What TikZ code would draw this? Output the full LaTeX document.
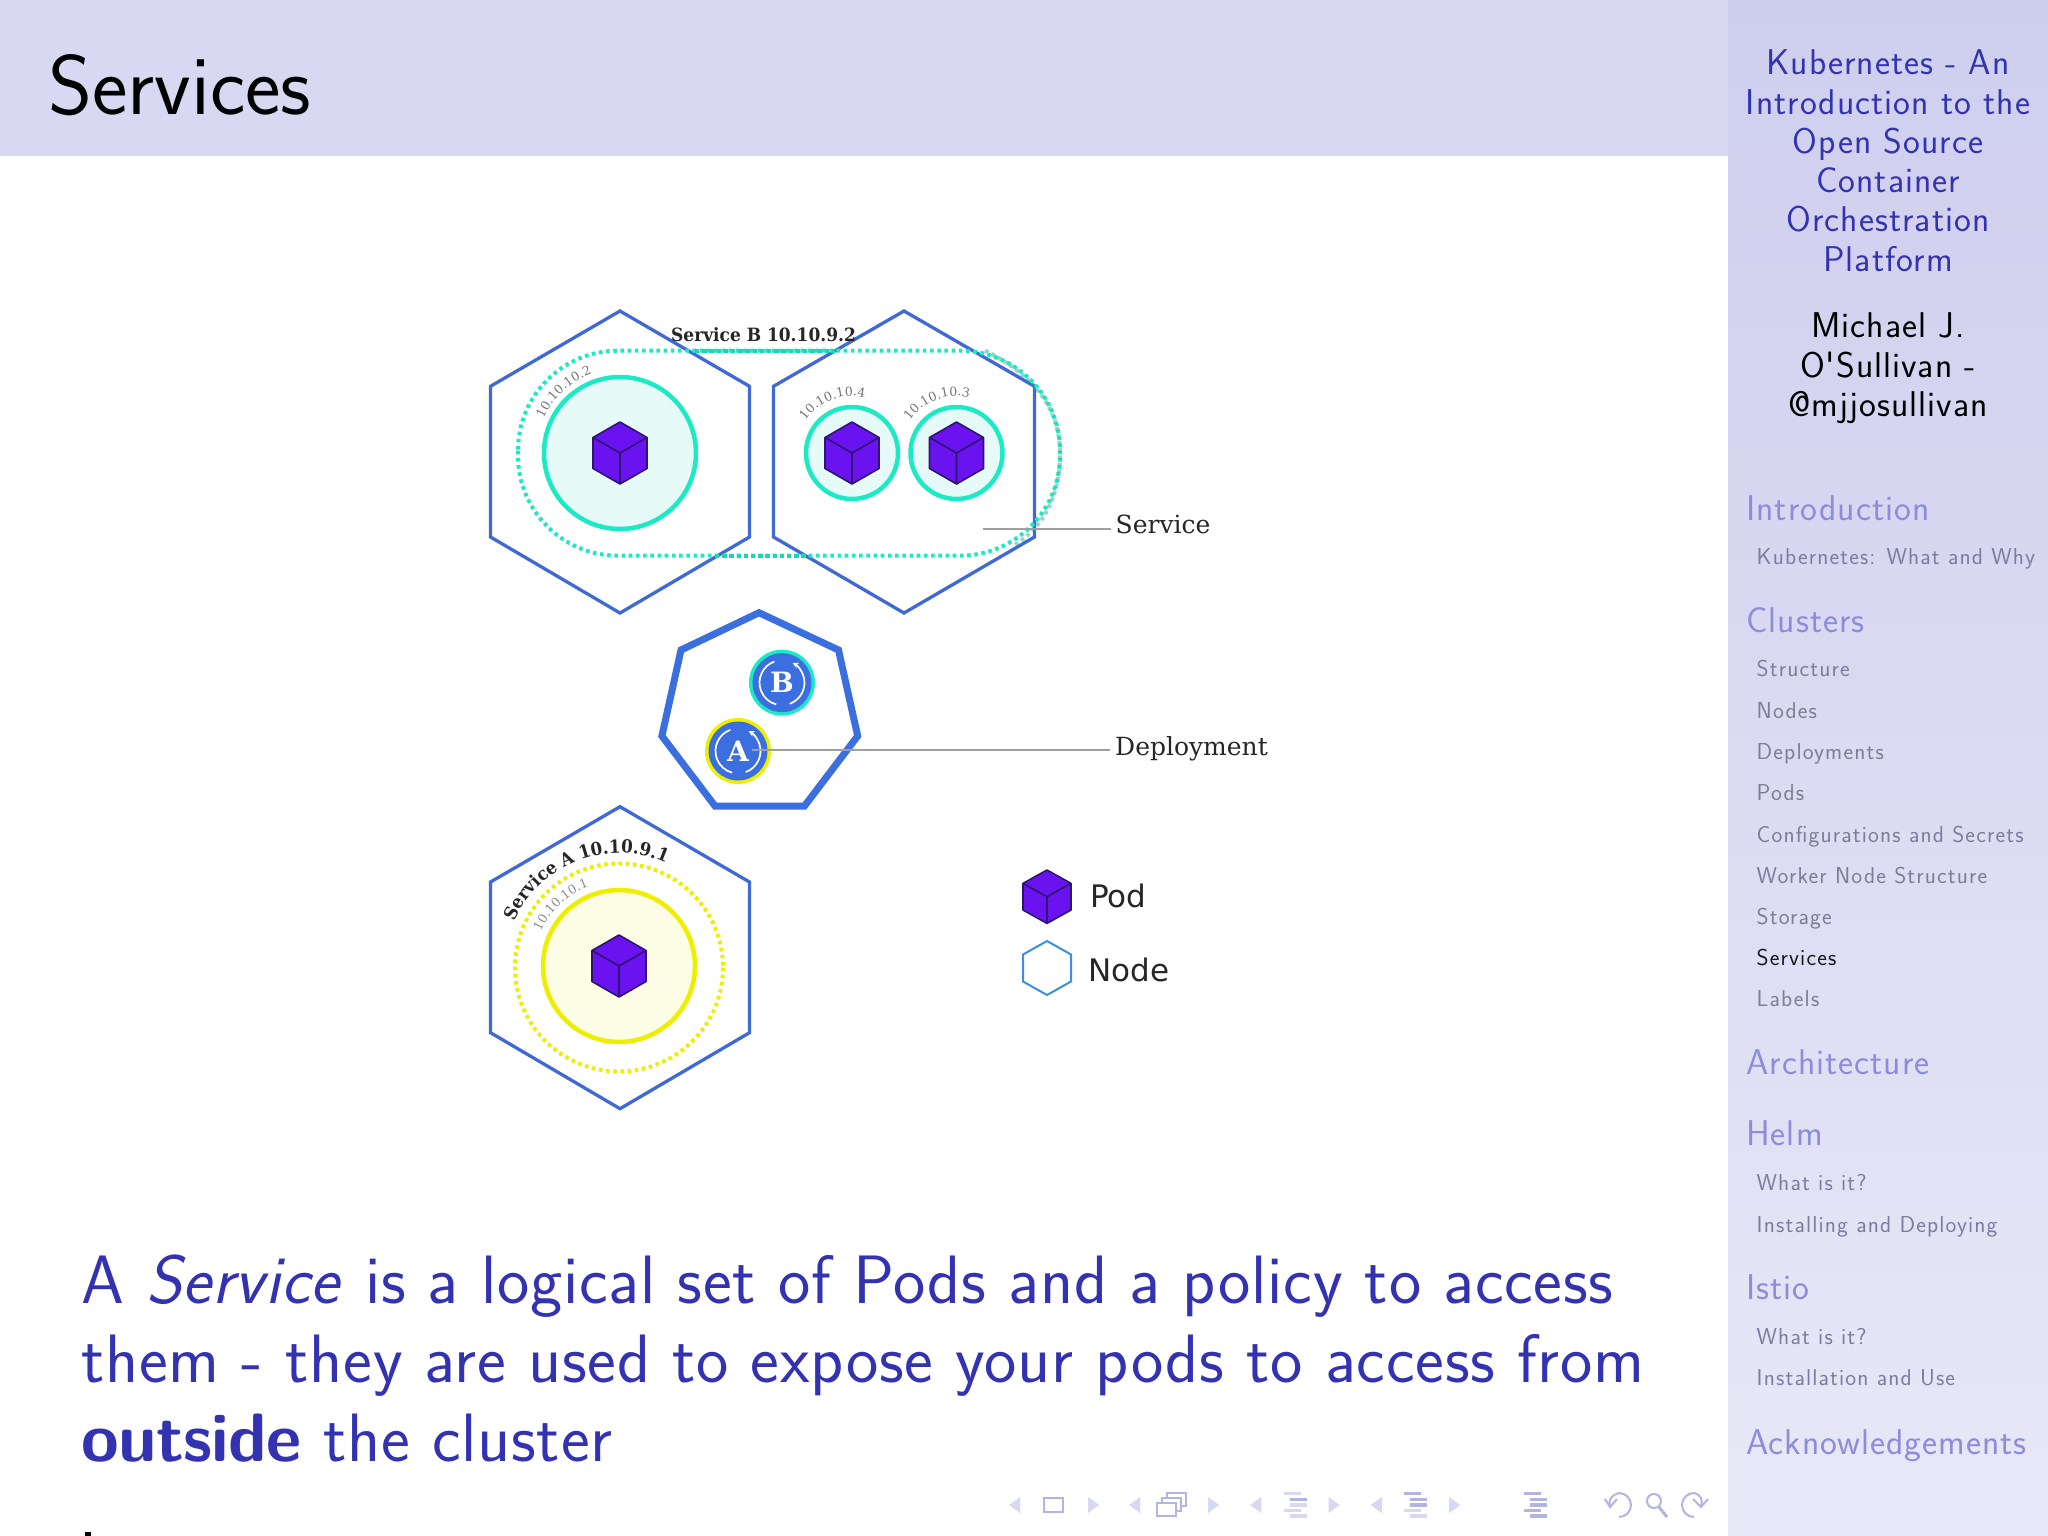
\documentclass[tikz,border=0pt]{standalone}
\usepackage{fontspec}
\usetikzlibrary{decorations.text,arrows.meta,calc}
\newfontfamily\lmA[LetterSpace=2.9]{Latin Modern Sans}
\newfontfamily\lmB[LetterSpace=5.0]{Latin Modern Sans}
\newfontfamily\lmC[LetterSpace=1.15,BoldFeatures={LetterSpace=-.8}]{Latin Modern Sans}
\newfontfamily\lmT{Latin Modern Sans}
\newfontfamily\slabN{DejaVu Serif}
\newfontfamily\slab[FakeStretch=.93]{DejaVu Serif}
\newfontfamily\djv{DejaVu Sans}
\definecolor{struct}{HTML}{3333B2}
\definecolor{hexblue}{HTML}{4169D6}
\definecolor{depblue}{HTML}{3B6FE0}
\definecolor{teal}{HTML}{1CEAC4}
\definecolor{tealfill}{HTML}{E6FBF7}
\definecolor{yel}{HTML}{EEEE00}
\definecolor{yelfill}{HTML}{FDFDE6}
\definecolor{cubef}{HTML}{6A12F0}
\definecolor{cubel}{HTML}{2B1570}
\definecolor{navd}{HTML}{B4B4E1}
\definecolor{navl}{HTML}{D8D8F0}
\definecolor{sect}{HTML}{8C8CDA}
\definecolor{subs}{HTML}{7C7C9C}
\tikzset{
  x=1pt,y=-1pt,
  txt/.style={anchor=base west,inner sep=0pt},
  ctr/.style={anchor=base,inner sep=0pt},
  bodyline/.style={txt,text=struct,font=\lmC\fontsize{68.5}{79}\selectfont},
  sbtitle/.style={ctr,text=struct,font=\lmA\fontsize{35.8}{39}\selectfont},
  sbauth/.style={ctr,text=black,font=\lmA\fontsize{35.8}{39}\selectfont},
  sbsec/.style={txt,text=sect,font=\lmA\fontsize{35.8}{39}\selectfont},
  sbsub/.style={txt,text=subs,font=\lmB\fontsize{23}{26}\selectfont},
  nodehex/.style={draw=hexblue,line width=3.3pt,line join=miter},
  podbig/.style={draw=teal,fill=tealfill,line width=4.5pt},
  dotted teal/.style={draw=teal,line width=4pt,dash pattern=on 3.6pt off 3.6pt},
  dotted yel/.style={draw=yel,line width=4pt,dash pattern=on 3.6pt off 3.6pt},
  leader/.style={draw=gray!75,line width=1.6pt},
  lab/.style={anchor=base west,inner ysep=0pt,inner xsep=5pt,text=black!85,font=\slabN\fontsize{25}{28}\selectfont},
  legend/.style={txt,text=black!85,font=\djv\fontsize{31}{34}\selectfont},
  navtri/.style={fill=navl,draw=none},
  deplogo/.style={circle,fill=depblue,minimum size=59pt,inner sep=0pt,text=white,font=\slabN\bfseries\fontsize{28}{30}\selectfont},
}
\newcommand{\kcube}[4]{%
 \begin{scope}[shift={(#1,#2)}]
  \draw[fill=cubef,draw=cubel,line width=1.6pt,line join=round]
    (0,-#4) -- (#3,-#4*.5) -- (#3,#4*.5) -- (0,#4) -- (-#3,#4*.5) -- (-#3,-#4*.5) -- cycle;
  \draw[draw=cubel,line width=1.6pt,line join=round]
    (-#3,-#4*.5) -- (0,0) -- (#3,-#4*.5) (0,0) -- (0,#4);
 \end{scope}}
\newcommand{\khex}[3]{%
  (#1,#2) -- (#1+#3,#2+75.3) -- (#1+#3,#2+226) -- (#1,#2+302) -- (#1-#3,#2+226) -- (#1-#3,#2+75.3) -- cycle}
\newcommand{\navleft}[2]{\fill[navtri] (#1,1505) -- (#1+11.3,#2-8) -- (#1+11.3,#2+8) -- cycle;}
\newcommand{\navright}[2]{\fill[navtri] (#1+11.3,1505) -- (#1,#2-8) -- (#1,#2+8) -- cycle;}
\newcommand{\navbars}[6]{%
 \fill[#2] (#1,1492) rectangle +(17,3.4);
 \fill[#3] (#1+5.5,1497.6) rectangle +(17,3.4);
 \fill[#4] (#1+5.5,1503.2) rectangle +(17,3.4);
 \fill[#5] (#1,1508.8) rectangle +(17,3.4);
 \fill[#6] (#1+5.5,1514.4) rectangle +(17,3.4);}
\newcommand{\deparrows}[2]{%
 \draw[white,line width=1.7pt,-{Stealth[length=6pt,width=6pt]}] (#1,#2) ++(70:22.5) arc (70:-62:22.5);
 \draw[white,line width=1.7pt] (#1,#2) ++(250:22.5) arc (250:105:22.5);}
\begin{document}
\begin{tikzpicture}
\useasboundingbox (0,0) rectangle (2048,1536);
\fill[white] (0,0) rectangle (2048,1536);
% header and sidebar
\fill[color={rgb,255:red,216;green,216;blue,242}] (0,0) rectangle (1728,156);
\shade[top color={rgb,255:red,206;green,206;blue,238},bottom color={rgb,255:red,232;green,232;blue,248}] (1728,0) rectangle (2048,1536);
\node[txt,font=\lmT\fontsize{84.5}{90}\selectfont] (title) at (48,115) {Services};

% nodes of cluster
\path[nodehex] \khex{620}{311}{129.5};
\path[nodehex] \khex{904}{311}{130.5};
% service B outline
\draw[dotted teal,rounded corners=100pt] (518,350.7) rectangle (1060,555.7);
\draw[draw=teal!70!black,line width=4pt,dash pattern=on 3.6pt off 3.6pt,opacity=.45] (985,350.7) .. controls (1035,375) and (1060,410) .. (1060,453) .. controls (1060,495) and (1045,525) .. (1015,545);
\draw[draw=teal!92!black,line width=4pt,dash pattern=on 4.4pt off 2.8pt] (695,350.7) -- (835,350.7) (715,555.7) -- (810,555.7);
% pods
\draw[podbig] (620,453) circle[radius=76];
\draw[podbig] (852,453) circle[radius=46];
\draw[podbig] (956.5,453) circle[radius=46];
\kcube{620}{453}{27}{31}
\kcube{852}{453}{27}{31}
\kcube{956.5}{453}{27}{31}
\path[decorate,decoration={text along path,text align=center,text color=black!55,text={|\slabN\fontsize{12.5}{15}\selectfont|10.10.10.2}}] (620,453) ++(203:84) arc (203:252:84);
\path[decorate,decoration={text along path,text align=center,text color=black!55,text={|\slabN\fontsize{12.5}{15}\selectfont|10.10.10.4}}] (852,453) ++(212:57) arc (212:286:57);
\path[decorate,decoration={text along path,text align=center,text color=black!55,text={|\slabN\fontsize{12.5}{15}\selectfont|10.10.10.3}}] (956.5,453) ++(212:57) arc (212:286:57);
\node[txt,text=black!85,font=\slab\bfseries\fontsize{18.3}{20}\selectfont] (svcb) at (671,341.5) {Service B 10.10.9.2};
\coordinate (svcstart) at (983,528.7);
\node[lab] (svclabel) at (1110.5,533) {Service};
\draw[leader] (svcstart) -- (svcstart -| svclabel.west);

% deployment
\draw[draw=depblue,line width=7pt,line join=miter,fill=none] (759,612.7) -- (838.5,650) -- (857.7,736) -- (804.5,806) -- (715,806) -- (661.9,736) -- (681,650) -- cycle;
\node[circle,fill=teal,minimum size=66pt,inner sep=0pt] (ringB) at (782,682.7) {};
\node[circle,fill=yel,minimum size=66pt,inner sep=0pt] (ringA) at (738,751) {};
\node[deplogo] (depB) at (ringB) {B};
\node[deplogo] (depA) at (ringA) {A};
\deparrows{782}{682.7}
\deparrows{738}{751}
\coordinate (depstart) at (752,750);
\node[lab] (deplabel) at (1110,755) {Deployment};
\draw[leader,line width=2pt] (depstart) -- (depstart -| deplabel.west);

% node with service A
\path[nodehex] \khex{620}{806.7}{129.5};
\draw[dotted yel] (619,967.5) circle[radius=104];
\draw[draw=yel,fill=yelfill,line width=4.5pt] (619,966) circle[radius=76];
\kcube{619}{966}{27}{31}
\path[decorate,decoration={text along path,text align=center,text color=black!85,text={|\slab\bfseries\fontsize{18}{20}\selectfont|Service A 10.10.9.1}}] (619,967) ++(198:114) arc (198:300:114);
\path[decorate,decoration={text along path,text align=center,text color=black!45,text={|\slabN\fontsize{12.5}{15}\selectfont|10.10.10.1}}] (619,967) ++(202:86) arc (202:252:86);

% legend
\kcube{1047}{896.7}{24}{26.7}
\draw[draw={rgb,255:red,59;green,143;blue,224},line width=2pt,fill=white] (1047,941) -- (1071,954.5) -- (1071,981.5) -- (1047,995) -- (1023,981.5) -- (1023,954.5) -- cycle;
\node[legend] (legpod) at (1090,907.5) {Pod};
\node[legend] (legnode) at (1088,981) {Node};

% body
\node[bodyline] (b1) at (81,1303) {A \textit{Service} is a logical set of Pods and a policy to access};
\node[bodyline] (b2) at (81,1382) {them - they are used to expose your pods to access from};
\node[bodyline] (b3) at (81,1461) {\textbf{outside} the cluster};
\fill[black] (84.5,1532) rectangle (91,1536);

% sidebar text
\node[sbtitle] (t1) at (1888,75) {Kubernetes - An};
\node[sbtitle] (t2) at (1888,114.3) {Introduction to the};
\node[sbtitle] (t3) at (1888,153.4) {Open Source};
\node[sbtitle] (t4) at (1888,192.7) {Container};
\node[sbtitle] (t5) at (1888,231.8) {Orchestration};
\node[sbtitle] (t6) at (1888,271) {Platform};
\node[sbauth] (a1) at (1888,337.7) {Michael J.};
\node[sbauth] (a2) at (1888,377) {O'Sullivan -};
\node[sbauth] (a3) at (1888,416) {@mjjosullivan};
\node[sbsec] (s1) at (1746,520) {Introduction};
\node[sbsub] (u1) at (1756.5,564) {Kubernetes: What and Why};
\node[sbsec] (s2) at (1746,632.5) {Clusters};
\node[sbsub] (u2) at (1756.5,676.7) {Structure};
\node[sbsub] (u3) at (1756.5,718) {Nodes};
\node[sbsub] (u4) at (1756.5,759) {Deployments};
\node[sbsub] (u5) at (1756.5,800.7) {Pods};
\node[sbsub] (u6) at (1756.5,842) {Configurations and Secrets};
\node[sbsub] (u7) at (1756.5,883.2) {Worker Node Structure};
\node[sbsub] (u8) at (1756.5,924.4) {Storage};
\node[sbsub,text=black!90] (u9) at (1756.5,965.6) {Services};
\node[sbsub] (u10) at (1756.5,1006.8) {Labels};
\node[sbsec] (s3) at (1746,1074.5) {Architecture};
\node[sbsec] (s4) at (1746,1145.5) {Helm};
\node[sbsub] (u11) at (1756.5,1190) {What is it?};
\node[sbsub] (u12) at (1756.5,1232) {Installing and Deploying};
\node[sbsec] (s5) at (1746,1299.5) {Istio};
\node[sbsub] (u13) at (1756.5,1344) {What is it?};
\node[sbsub] (u14) at (1756.5,1385) {Installation and Use};
\node[sbsec] (s6) at (1746,1454) {Acknowledgements};

% navigation symbols
\navleft{1009}{1505}\navright{1088}{1505}
\draw[navd,line width=2pt] (1044,1498) rectangle (1063,1512);
\navleft{1129}{1505}\navright{1208}{1505}
\draw[navd,line width=1.6pt,fill=white] (1167,1493) rectangle (1186,1506);
\draw[navd,line width=1.6pt,fill=white] (1162,1498) rectangle (1181,1511);
\draw[navd,line width=2pt,fill=white] (1157,1503) rectangle (1176,1516);
\navleft{1250}{1505}\navright{1328.5}{1505}
\navbars{1284}{navl}{navd}{navl}{navl}{navl}
\navleft{1370.7}{1505}\navright{1449}{1505}
\navbars{1404}{navd}{navd}{navd}{navl}{navl}
\navbars{1524}{navd}{navd}{navd}{navd}{navd}
\draw[navd,line width=2pt] (1619,1493) arc (-90:90:12);
\draw[navd,line width=2pt] (1605,1499) -- (1610,1507) -- (1617,1499) (1610,1507) .. controls (1608,1499) and (1612,1495) .. (1619,1493);
\draw[navd,line width=2pt] (1654,1501) circle[radius=7];
\draw[navd,line width=3pt] (1659,1507) -- (1667,1517);
\draw[navd,line width=2pt] (1694,1493) arc (-90:-270:12);
\draw[navd,line width=2pt] (1694,1493) .. controls (1701,1495) and (1703,1499) .. (1701,1507) (1693,1499) -- (1701,1507) -- (1708,1499);
\end{tikzpicture}
\end{document}
